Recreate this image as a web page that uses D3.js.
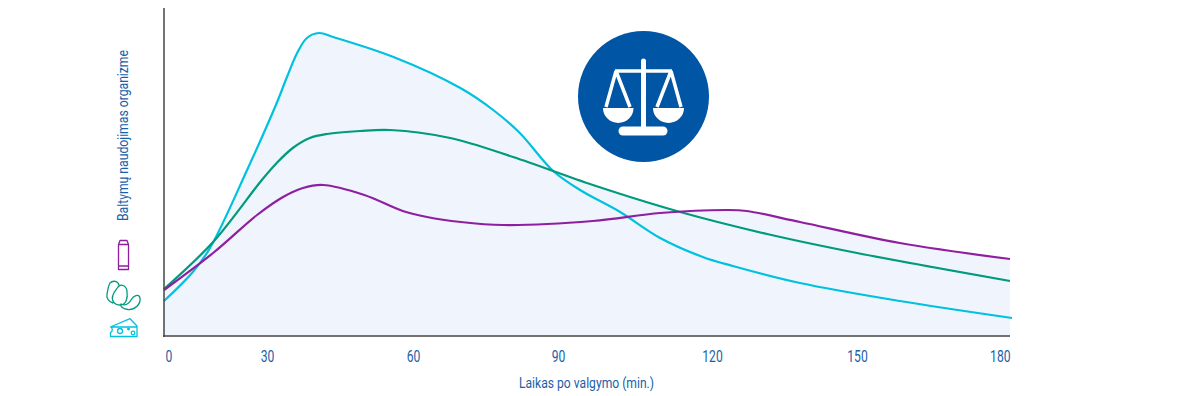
<!DOCTYPE html>
<html><head><meta charset="utf-8">
<script src="https://cdn.jsdelivr.net/npm/d3@7"></script>
<style>
html,body{margin:0;padding:0;background:#fff}
svg{display:block}
text{font-family:"Roboto","Liberation Sans",sans-serif;font-weight:400;fill:#1a5fa9}
</style></head><body>
<svg id="c" width="1180" height="396"></svg>
<script>
const tickLabels=[0,30,60,90,120,150,180];
const xTitle="Laikas po valgymo (min.)";
const yTitle="Baltymų naudojimas organizme";
const cheeseMin=[0,8.4,13.4,24.2,32,34.1,36.2,38.2,40.7,43.6,56,69.8,76.6,82.1,89,94.3,102.1,109.9,118.2,124.3,138.2,158.4,180.4];
const cheeseVal=[35,64,88,166,233,259,283,298,303,299,279,248,226,203,165,146,124,98,79,70,53,35,18];
const beansMin=[0,14.3,28.5,32,35.3,38.8,42.3,49.1,55.3,67.7,80.7,96.8,113.8,131.4,150,180];
const beansVal=[47,94,156,173,188,198,202,205,206,198,179,151,124,102,83,55];
const drinkMin=[0,14.3,27.1,33.3,37.4,41.5,50,57.9,62.9,69.9,78.6,96.8,109.9,123.1,127.2,138.2,158.4,180];
const drinkVal=[46,83,121,139,148,151,141,125,119,114,111,115,123,126,125,114,93,77];
const colors={cheese:"#00c1de",beans:"#009a7c",drink:"#8e1f9f",fill:"#f0f5fd",axis:"#444",badge:"#0055a5"};

const svg=d3.select("#c");
const x=d3.scaleLinear().domain(tickLabels).range([164,267,413,558,712,857,1010]);
const y=d3.scaleLinear().domain([0,328]).range([336,8]);
const series=[
 {m:cheeseMin,v:cheeseVal,c:colors.cheese},
 {m:beansMin,v:beansVal,c:colors.beans},
 {m:drinkMin,v:drinkVal,c:colors.drink}];
const curve=d3.curveCatmullRom.alpha(0.5);
const area=d3.area().x(d=>x(d[0])).y0(y(0)).y1(d=>y(d[1])).curve(curve);
const line=d3.line().x(d=>x(d[0])).y(d=>y(d[1])).curve(curve);
series.forEach(s=>{s.pts=s.m.map((m,i)=>[m,s.v[i]]);});
svg.append("defs").append("clipPath").attr("id","pl").append("rect")
  .attr("x",x(0)).attr("y",0).attr("width",x(180)-x(0)).attr("height",y(0));
svg.append("g").attr("clip-path","url(#pl)").selectAll("path").data(series).join("path")
  .attr("d",s=>area(s.pts)).attr("fill",colors.fill);
svg.append("g").selectAll("path").data(series).join("path")
  .attr("d",s=>line(s.pts)).attr("fill","none").attr("stroke",s=>s.c).attr("stroke-width",2.2);

// axes
svg.append("line").attr("x1",164).attr("x2",164).attr("y1",8).attr("y2",337).attr("stroke",colors.axis).attr("stroke-width",1.5);
const ax=svg.append("g").attr("transform",`translate(0,${y(0)})`)
  .call(d3.axisBottom(x).tickValues(tickLabels).tickSize(0).tickPadding(14).tickFormat(d3.format("d")));
ax.select(".domain").attr("stroke",colors.axis).attr("stroke-width",1.5).attr("d",`M163,0H${x(180)}`);
ax.selectAll("text").attr("font-size",17).attr("font-family",null)
  .attr("text-anchor",(d,i)=>i==0?"start":i==6?"end":"middle")
  .attr("dx",(d,i)=>i==0?1:0)
  .attr("textLength",d=>String(d).length*6.8).attr("lengthAdjust","spacingAndGlyphs");
svg.append("text").attr("x",519).attr("y",388).attr("font-size",15).attr("textLength",135).attr("lengthAdjust","spacingAndGlyphs").text(xTitle);
svg.append("text").attr("transform","translate(128,221) rotate(-90)").attr("font-size",15).attr("textLength",171).attr("lengthAdjust","spacingAndGlyphs").text(yTitle);

// badge
const b=svg.append("g");
b.append("circle").attr("cx",643.5).attr("cy",96.5).attr("r",65.5).attr("fill",colors.badge);
b.append("path").attr("fill","none").attr("stroke","#fff").attr("stroke-width",3.5)
 .attr("d","M615,71H672M616,71L606,107M616,71L630,107M671,71L657,107M671,71L681,107");
b.append("path").attr("fill","none").attr("stroke","#fff").attr("stroke-width",5).attr("stroke-linecap","round").attr("d","M643.5,61V128");
b.append("path").attr("fill","none").attr("stroke","#fff").attr("stroke-width",9).attr("stroke-linecap","round").attr("d","M623,131H663");
b.append("path").attr("fill","#fff").attr("d","M603,108H633.500A15.250,15 0 0 1 603,108ZM653,108H684A15.500,15 0 0 1 653,108Z");

// icons
const ic=svg.append("g").attr("fill","#fff").attr("stroke-width",1.3).attr("stroke-linejoin","round");
ic.append("path").attr("stroke",colors.drink).attr("fill","none")
 .attr("d","M118.500,269.500V244.500L120,240.500H127L128.500,244.500V269.500ZM118,244.500H129M118.500,266H128.500");
const beanG=ic.append("g").attr("stroke",colors.beans);
beanG.append("path").attr("d","M110,283C113,280 118,281 119,285C120,288 118,290 118,293L113,303C109,302 106,298 107,294C108,290 108,286 110,283Z");
beanG.append("path").attr("d","M118,287C121,283 127,286 127,292C128,298 126,305 120,305C114,305 111,300 113,295C114,292 116,290 118,287Z");
beanG.append("path").attr("d","M121,304C125,306 129,304 131,300C133,296 139,293 140,298C141,304 135,310 128,309.500C124,309 120,307 121,304Z");
const cg=ic.append("g").attr("stroke",colors.cheese).attr("fill","none");
cg.append("path").attr("d","M110.500,327L130,318.700L137,326V336.500H110.500V332.500A3,3 0 0 0 110.500,327ZM111,327H137");
cg.append("circle").attr("cx",120).attr("cy",331).attr("r",2.500);
cg.append("circle").attr("cx",133).attr("cy",333).attr("r",1.800);
cg.append("circle").attr("fill",colors.cheese).attr("cx",128.500).attr("cy",329).attr("r",.8);
</script></body></html>
